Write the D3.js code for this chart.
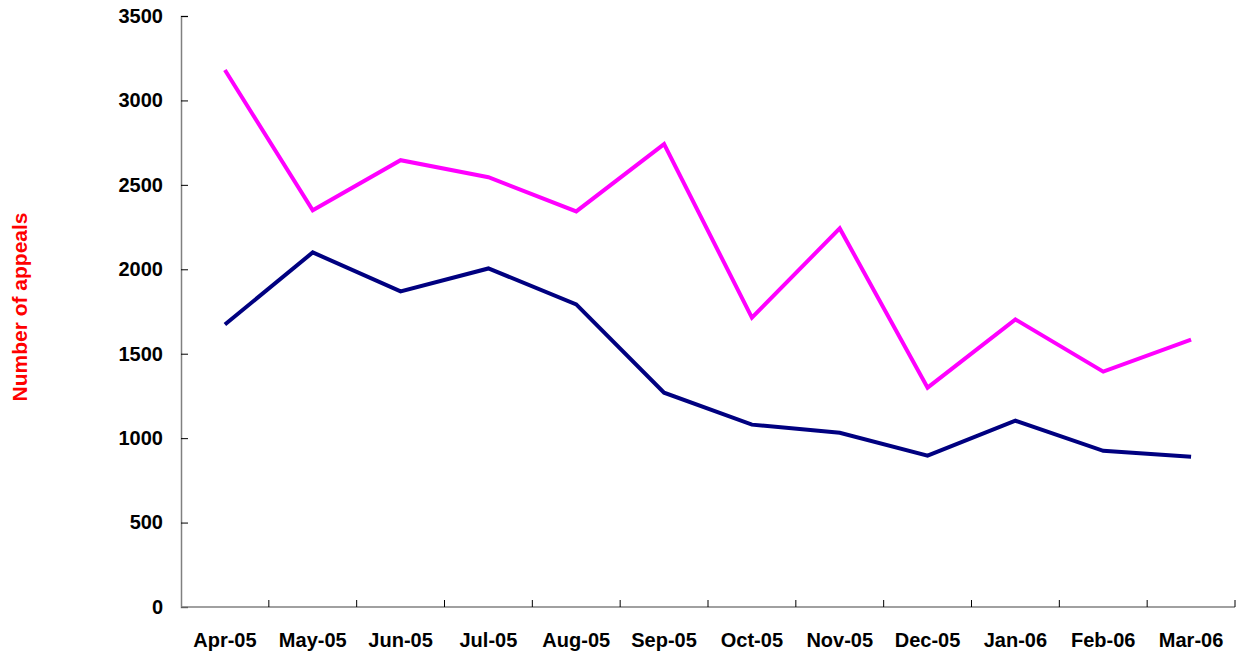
<!DOCTYPE html>
<html>
<head>
<meta charset="utf-8">
<script src="https://cdn.jsdelivr.net/npm/d3@7"></script>
<style>
  body { margin: 0; background: #fff; }
  text { font-family: "Liberation Sans", Arial, sans-serif; font-weight: bold; }
</style>
</head>
<body>
<script>
var months = ["Apr-05", "May-05", "Jun-05", "Jul-05", "Aug-05", "Sep-05",
              "Oct-05", "Nov-05", "Dec-05", "Jan-06", "Feb-06", "Mar-06"];
var pinkSeries = [3180, 2349, 2646, 2545, 2343, 2741, 1714, 2242, 1299, 1703, 1394, 1584];
var navySeries = [1673, 2100, 1869, 2005, 1792, 1269, 1080, 1032, 896, 1103, 925, 890];
var yTicks = [0, 500, 1000, 1500, 2000, 2500, 3000, 3500];

var W = 1236, H = 655;
var plotLeft = 181, plotRight = 1235, plotTop = 16, plotBottom = 607;

var svg = d3.select("body").append("svg")
    .attr("width", W)
    .attr("height", H);

var x = d3.scaleBand().domain(months).range([plotLeft, plotRight]);
var y = d3.scaleLinear().domain([0, 3500]).range([plotBottom, plotTop]);

// y axis, ticks point inward
var yAxis = svg.append("g")
    .attr("transform", "translate(" + plotLeft + ",0)")
    .call(d3.axisRight(y).tickValues(yTicks).tickSize(7).tickFormat(d3.format("d")));
yAxis.select(".domain").attr("stroke", "#808080").attr("stroke-width", 1.5);
yAxis.selectAll(".tick line").attr("stroke", "#000");
yAxis.selectAll(".tick text")
    .attr("x", -18)
    .attr("text-anchor", "end")
    .attr("font-size", 20)
    .attr("fill", "#000");

// x axis, ticks at the band edges
var xAxis = svg.append("g")
    .attr("transform", "translate(0," + plotBottom + ")");
xAxis.append("line")
    .attr("x1", plotLeft).attr("x2", plotRight)
    .attr("stroke", "#808080").attr("stroke-width", 1.5);
xAxis.selectAll(".edge")
    .data(months)
    .enter().append("line")
    .attr("class", "edge")
    .attr("x1", function(d) { return x(d) + x.bandwidth(); })
    .attr("x2", function(d) { return x(d) + x.bandwidth(); })
    .attr("y1", 0).attr("y2", -7)
    .attr("stroke", "#000");
xAxis.selectAll(".lab")
    .data(months)
    .enter().append("text")
    .attr("class", "lab")
    .attr("x", function(d) { return x(d) + x.bandwidth() / 2; })
    .attr("y", 40)
    .attr("text-anchor", "middle")
    .attr("font-size", 20)
    .attr("fill", "#000")
    .text(function(d) { return d; });

// axis title
svg.append("text")
    .attr("transform", "translate(27,307) rotate(-90)")
    .attr("text-anchor", "middle")
    .attr("font-size", 21)
    .attr("fill", "#ff0000")
    .text("Number of appeals");

var line = d3.line()
    .x(function(d, i) { return x(months[i]) + x.bandwidth() / 2; })
    .y(function(d) { return y(d); });

svg.append("path")
    .datum(pinkSeries)
    .attr("fill", "none")
    .attr("stroke", "#ff00ff")
    .attr("stroke-width", 4)
    .attr("d", line);

svg.append("path")
    .datum(navySeries)
    .attr("fill", "none")
    .attr("stroke", "#000080")
    .attr("stroke-width", 4)
    .attr("d", line);
</script>
</body>
</html>
